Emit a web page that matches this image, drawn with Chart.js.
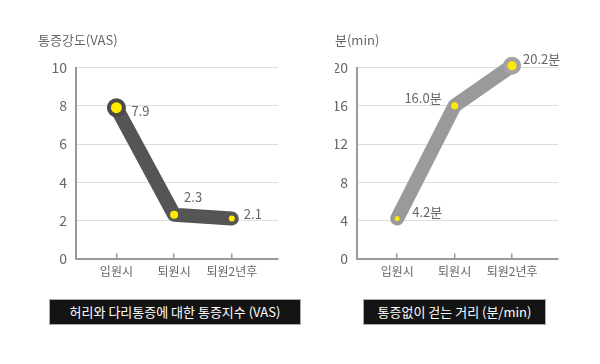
<!DOCTYPE html>
<html>
<head>
<meta charset="utf-8">
<script src="https://cdn.jsdelivr.net/npm/chart.js@4"></script>
<style>
  body { margin: 0; background: #fff; width: 600px; height: 364px; position: relative; overflow: hidden; font-family: "Noto Sans CJK KR", sans-serif; }
  .wrap { position: absolute; top: 0; width: 300px; height: 298px; }
  .cap { position: absolute; top: 299px; height: 26px; line-height: 24px; background: #141414; color: #fff; border: 1px solid #aaa; box-sizing: border-box; text-align: center; font-size: 13px; }
</style>
</head>
<body>
<div class="wrap" style="left:0"><canvas id="pain" width="300" height="298"></canvas></div>
<div class="wrap" style="left:300px"><canvas id="walk" width="300" height="298"></canvas></div>
<div class="cap" style="left:49px;width:252px">허리와 다리통증에 대한 통증지수 (VAS)</div>
<div class="cap" style="left:363px;width:183px">통증없이 걷는 거리 (분/min)</div>
<script>
const CATEGORIES = ['입원시', '퇴원시', '퇴원2년후'];
const PAIN = [7.9, 2.3, 2.1];
const PAIN_TICKS = [0, 2, 4, 6, 8, 10];
const WALK = [4.2, 16.0, 20.2];
const WALK_TICKS = [0, 4, 8, 12, 16, 20];

const FONT = '"Noto Sans CJK KR", sans-serif';

// value text next to each point
const valueLabels = {
  id: 'valueLabels',
  afterDatasetsDraw(chart, args, opts) {
    const { ctx } = chart;
    const meta = chart.getDatasetMeta(0);
    ctx.save();
    ctx.font = '13px ' + FONT;
    ctx.fillStyle = '#666';
    ctx.textBaseline = 'middle';
    meta.data.forEach((pt, i) => {
      const [dx, dy, align] = opts.offsets[i];
      ctx.textAlign = align || 'left';
      ctx.fillText(opts.texts[i], pt.x + dx, pt.y + dy);
    });
    ctx.restore();
  }
};

const makeChart = (id, cfg) => {
  new Chart(document.getElementById(id), {
    type: 'line',
    data: {
      datasets: [{
        data: cfg.values.map((v, i) => ({ x: i, y: v })),
        borderColor: cfg.color,
        borderWidth: 14,
        borderCapStyle: 'round',
        borderJoinStyle: 'round',
        tension: 0,
        clip: false,
        pointRadius: cfg.radii,
        pointBorderWidth: cfg.rings,
        pointBackgroundColor: '#ffea00',
        pointBorderColor: cfg.ringColor
      }]
    },
    options: {
      responsive: false,
      animation: false,
      layout: { padding: { left: cfg.padLeft, right: cfg.padRight, top: 32, bottom: 8 } },
      plugins: {
        legend: { display: false },
        tooltip: { enabled: false },
        title: {
          display: true,
          text: cfg.title,
          align: 'start',
          color: '#666',
          font: { family: FONT, size: 13, weight: 'normal', lineHeight: 1.2 },
          padding: { top: 0, bottom: 20 }
        },
        valueLabels: { texts: cfg.texts, offsets: cfg.offsets }
      },
      scales: {
        x: {
          type: 'linear',
          min: -0.7,
          max: 2.8,
          afterBuildTicks: s => { s.ticks = CATEGORIES.map((c, i) => ({ value: i })); },
          ticks: {
            callback: v => CATEGORIES[v],
            color: '#666',
            padding: 11,
            maxRotation: 0,
            font: { family: FONT, size: 12 }
          },
          grid: { drawOnChartArea: false, color: '#999', lineWidth: 1.5, tickLength: -5 },
          border: { color: '#999', width: 2 }
        },
        y: {
          min: cfg.ticks[0],
          max: cfg.ticks[cfg.ticks.length - 1],
          afterBuildTicks: s => { s.ticks = cfg.ticks.map(v => ({ value: v })); },
          afterFit: s => { s.width = cfg.yWidth; },
          ticks: { color: '#666', padding: 9, font: { family: FONT, size: 14 } },
          grid: { color: '#ddd', drawTicks: false },
          border: { color: '#999', width: 2 }
        }
      }
    },
    plugins: [valueLabels]
  });
};

makeChart('pain', {
  values: PAIN,
  ticks: PAIN_TICKS,
  title: '통증강도(VAS)',
  color: '#555',
  ringColor: '#4a4a4a',
  radii: [7.5, 4, 3],
  rings: [4, 0, 0],
  padLeft: 38,
  padRight: 22,
  yWidth: 38,
  texts: PAIN.map(v => v.toFixed(1)),
  offsets: [[15, 3], [10, -18], [12, -4]]
});

makeChart('walk', {
  values: WALK,
  ticks: WALK_TICKS,
  title: '분(min)',
  color: '#9a9a9a',
  ringColor: '#a3a3a3',
  radii: [2.5, 3.5, 6.8],
  rings: [0, 0, 4.5],
  padLeft: 35,
  padRight: 42,
  yWidth: 22,
  texts: WALK.map(v => v.toFixed(1) + '분'),
  offsets: [[15, -6], [-13, -8, 'right'], [11, -7]]
});
</script>
</body>
</html>
